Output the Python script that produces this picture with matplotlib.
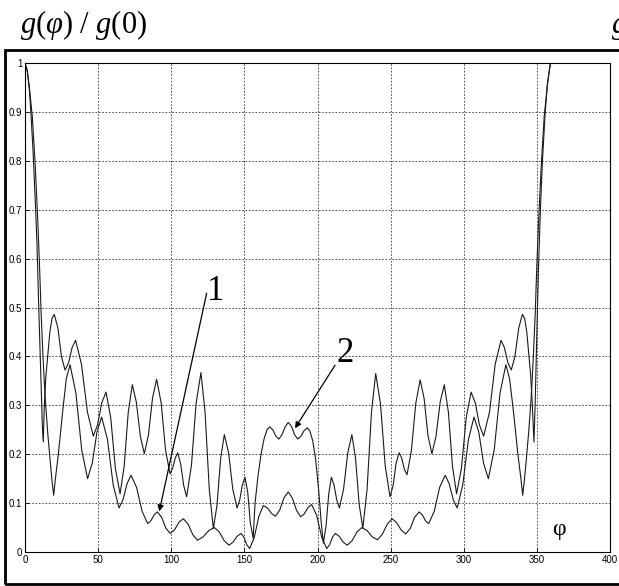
import matplotlib
matplotlib.use("Agg")
import matplotlib.pyplot as plt
from matplotlib import font_manager
from matplotlib.patches import Rectangle

# curve 1 (lower side lobes)
phi1 = [0, 1.5, 3.0, 5.0, 7.0, 8.7, 10.0, 11.0, 12.3, 13.8, 15.5, 17.1, 18.5, 19.6,
        20.8, 22.8, 24.5, 26.2, 28.3, 30.8, 34.8, 38.8, 42.8, 46.0, 49.2, 52.4,
        56.4, 60.3, 64.3, 67.0, 69.8, 72.5, 76.3, 80.1, 83.9, 86.1, 88.3, 90.5,
        93.4, 96.3, 99.2, 102.2, 105.3, 108.3, 111.5, 114.8, 118.0, 121.8, 125.7,
        129.5, 132.8, 136.2, 139.5, 142.2, 145.0, 147.7, 149.7, 151.6, 153.6,
        156.7, 159.9, 163.0, 165.8, 168.5, 171.3, 174.2, 177.1, 180.0, 182.8,
        185.7, 188.5, 191.0, 193.5, 196.0, 199.4, 202.9, 206.3, 208.3, 210.2,
        212.2, 214.9, 217.6, 220.3, 223.6, 227.0, 230.3, 233.9, 237.4, 241.0,
        244.3, 247.7, 251.0, 254.1, 257.2, 260.3, 263.4, 266.4, 269.5, 271.7,
        273.8, 276.0, 279.8, 283.5, 287.3, 290.0, 292.8, 295.5, 299.3, 303.2,
        307.0, 310.3, 313.5, 316.8, 320.8, 324.8, 328.8, 331.3, 333.5, 335.3,
        337.0, 339.1, 340.3, 341.4, 342.8, 344.4, 346.1, 347.6, 348.9, 349.9,
        351.2, 353.0, 355.0, 357.0, 358.5, 359.3]
g1 = [1.000, 0.985, 0.950, 0.890, 0.790, 0.680, 0.580, 0.490, 0.400, 0.315, 0.245, 0.190, 0.145, 0.116,
      0.150, 0.200, 0.250, 0.300, 0.355, 0.383, 0.325, 0.208, 0.150, 0.182, 0.245, 0.276,
      0.230, 0.137, 0.090, 0.107, 0.140, 0.157, 0.132, 0.083, 0.058, 0.064, 0.076, 0.082,
      0.071, 0.049, 0.038, 0.045, 0.061, 0.068, 0.057, 0.035, 0.024, 0.031, 0.044,
      0.050, 0.041, 0.023, 0.014, 0.020, 0.032, 0.038, 0.030, 0.015, 0.007,
      0.029, 0.073, 0.095, 0.090, 0.079, 0.073, 0.086, 0.111, 0.123, 0.110,
      0.085, 0.072, 0.078, 0.091, 0.097, 0.075, 0.030, 0.007, 0.015, 0.030,
      0.038, 0.032, 0.020, 0.014, 0.023, 0.041, 0.050, 0.044, 0.031, 0.025,
      0.036, 0.057, 0.068, 0.060, 0.045, 0.037, 0.048, 0.071, 0.082, 0.076,
      0.064, 0.058, 0.083, 0.132, 0.157, 0.140, 0.107, 0.090, 0.137, 0.230,
      0.276, 0.245, 0.182, 0.150, 0.208, 0.325, 0.383, 0.355, 0.300, 0.250,
      0.200, 0.150, 0.116, 0.145, 0.190, 0.245, 0.315, 0.400, 0.490, 0.580,
      0.680, 0.790, 0.890, 0.950, 0.985, 1.000]

# curve 2 (higher side lobes)
phi2 = [0, 1.5, 3.0, 4.0, 5.5, 7.0, 8.2, 9.2, 10.2, 11.2, 11.9, 12.5, 13.2, 14.3,
        15.5, 17.0, 18.5, 20.0, 22.5, 24.9, 27.4, 29.8, 32.2, 34.6, 38.6, 42.7,
        46.7, 49.6, 52.5, 55.4, 58.6, 61.8, 65.0, 67.8, 70.6, 73.4, 76.1, 78.9,
        81.6, 84.4, 87.2, 90.0, 93.1, 96.1, 99.2, 100.9, 102.7, 104.4, 106.4,
        108.5, 110.5, 113.8, 117.0, 120.3, 123.1, 126.0, 128.8, 131.3, 133.8,
        136.3, 139.2, 142.1, 145.0, 146.8, 148.6, 150.4, 152.3, 154.1, 156.0,
        157.3, 159.3, 161.4, 163.5, 165.5, 167.3, 169.4, 171.5, 173.6, 175.7,
        177.9, 180.0, 182.2, 184.3, 186.5, 188.7, 190.8, 193.0, 194.7, 196.7,
        198.7, 200.7, 202.5, 204.0, 205.8, 207.7, 209.5, 211.3, 213.2, 215.0,
        217.8, 220.7, 223.5, 226.0, 228.5, 231.0, 233.9, 236.9, 239.8, 243.1,
        246.3, 249.6, 251.7, 253.7, 255.8, 257.6, 259.4, 261.2, 264.2, 267.2,
        270.2, 272.9, 275.5, 278.2, 281.0, 283.9, 286.7, 289.5, 292.3, 295.1,
        298.4, 301.7, 305.0, 307.9, 310.7, 313.6, 317.6, 321.5, 325.5, 327.8,
        330.2, 332.5, 335.0, 337.6, 340.1, 341.6, 343.1, 344.6, 345.8, 346.9,
        348.0, 348.8, 349.6, 350.4, 351.3, 352.4, 353.8, 355.7, 357.3, 359.3]
g2 = [1.000, 0.985, 0.945, 0.900, 0.820, 0.720, 0.630, 0.520, 0.420, 0.320, 0.255, 0.225, 0.300, 0.360,
      0.400, 0.450, 0.478, 0.486, 0.458, 0.400, 0.372, 0.387, 0.418, 0.433, 0.384, 0.286,
      0.237, 0.260, 0.305, 0.327, 0.275, 0.171, 0.119, 0.175, 0.286, 0.342, 0.307, 0.236,
      0.201, 0.239, 0.315, 0.353, 0.305, 0.208, 0.160, 0.171, 0.192, 0.203, 0.181,
      0.136, 0.113, 0.177, 0.304, 0.367, 0.287, 0.128, 0.048, 0.096, 0.192,
      0.240, 0.203, 0.128, 0.090, 0.106, 0.137, 0.153, 0.122, 0.059, 0.028,
      0.100, 0.155, 0.200, 0.232, 0.250, 0.256, 0.250, 0.237, 0.231, 0.240,
      0.256, 0.265, 0.257, 0.240, 0.231, 0.237, 0.248, 0.254, 0.248, 0.228,
      0.190, 0.130, 0.062, 0.018, 0.052, 0.119, 0.153, 0.137, 0.106, 0.090,
      0.128, 0.203, 0.240, 0.192, 0.097, 0.049, 0.128, 0.286, 0.365, 0.302,
      0.176, 0.113, 0.136, 0.181, 0.203, 0.192, 0.169, 0.158, 0.207, 0.304,
      0.352, 0.314, 0.239, 0.201, 0.236, 0.307, 0.342, 0.286, 0.175, 0.119,
      0.171, 0.275, 0.327, 0.305, 0.260, 0.237, 0.286, 0.384, 0.433, 0.418,
      0.387, 0.372, 0.400, 0.458, 0.486, 0.478, 0.450, 0.400, 0.360, 0.300,
      0.225, 0.300, 0.400, 0.500, 0.600, 0.700, 0.800, 0.900, 0.960, 1.000]

xticks = [0, 50, 100, 150, 200, 250, 300, 350, 400]
yticks = [0, 0.1, 0.2, 0.3, 0.4, 0.5, 0.6, 0.7, 0.8, 0.9, 1]
ytick_labels = ["0", "0.1", "0.2", "0.3", "0.4", "0.5", "0.6", "0.7", "0.8", "0.9", "1"]


def pick_font(names):
    for name in names:
        try:
            font_manager.findfont(font_manager.FontProperties(family=name),
                                  fallback_to_default=False)
            return name
        except Exception:
            pass
    return "DejaVu Sans"


tick_font = pick_font(["Liberation Sans Narrow", "DejaVu Sans Condensed", "Liberation Sans"])

plt.rcParams["mathtext.fontset"] = "custom"
plt.rcParams["mathtext.rm"] = "Liberation Serif"
plt.rcParams["mathtext.it"] = "Liberation Serif:italic"

fig = plt.figure(figsize=(6.19, 5.86), dpi=100)
ax = fig.add_axes([25 / 619, 34 / 586, 585 / 619, 489 / 586])

ax.plot(phi1, g1, color="#1a1a1a", lw=0.8)
ax.plot(phi2, g2, color="#1a1a1a", lw=0.8)

ax.set_xlim(0, 400)
ax.set_ylim(0, 1)
ax.set_xticks(xticks)
ax.set_xticklabels([str(v) for v in xticks])
ax.set_yticks(yticks)
ax.set_yticklabels(ytick_labels)
ax.grid(True, color="#333333", linestyle=(0, (2, 2)), lw=0.6)
ax.tick_params(direction="in", length=3, width=0.6, labelsize=7, pad=2)
for lab in ax.get_xticklabels() + ax.get_yticklabels():
    lab.set_fontfamily(tick_font)
for sp in ax.spines.values():
    sp.set_linewidth(0.8)

# arrows and labels
arrow = dict(arrowstyle="-|>", color="k", lw=0.9, mutation_scale=9, shrinkA=0, shrinkB=0)
ax.annotate("", xy=(91.8, 0.083), xytext=(124.2, 0.529), arrowprops=arrow)
ax.annotate("", xy=(184.6, 0.253), xytext=(212.0, 0.382), arrowprops=arrow)
ax.text(130.5, 0.515, "1", fontsize=25, family="Liberation Serif", ha="center", va="baseline")
ax.text(218.8, 0.389, "2", fontsize=25, family="Liberation Serif", ha="center", va="baseline")
ax.text(365.4, 0.045, "φ", fontsize=17, family="Liberation Serif", ha="center", va="center")

# titles above the frame (the right one belongs to a neighbouring panel, cut off)
fig.text(20 / 619, 1 - 33 / 586, r"$g(\varphi)\ /\ g(0)$", fontsize=22, ha="left", va="baseline")
fig.text(611 / 619, 1 - 33 / 586, r"$g$", fontsize=22, ha="left", va="baseline")

# outer frame (right side runs off the picture)
fig.patches.append(Rectangle((4.5 / 619, 2.5 / 586), 1.0, 533.5 / 586, transform=fig.transFigure,
                             fill=False, lw=2.0, edgecolor="k"))

fig.savefig("out.png", dpi=100)
